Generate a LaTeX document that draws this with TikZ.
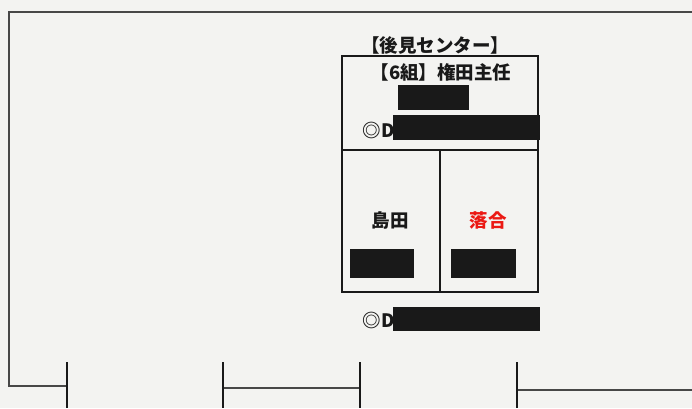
\documentclass[tikz,border=0pt]{standalone}
\usepackage{fontspec}
\setmainfont{Noto Sans CJK JP}
\usetikzlibrary{positioning}
\definecolor{paper}{RGB}{243,243,241}
\definecolor{ink}{RGB}{25,25,25}
\definecolor{namered}{RGB}{235,25,20}

\begin{document}
\begin{tikzpicture}
[x=1pt,y=-1pt,
 wall/.style={draw=ink!80,line width=2pt},
 cell/.style={draw=ink,line width=1.8pt,rectangle,inner sep=0pt},
 jtext/.style={font=\fontsize{18.5}{22}\selectfont\bfseries,inner sep=0pt,text=ink},
 redact/.style={fill=ink,draw=none,inner sep=0pt}]
\fill[paper] (0,0) rectangle (692,408);
\useasboundingbox (0,0) rectangle (692,408);
% outer frame
\coordinate (tl) at (9,12); \coordinate (tr) at (692,12);
\coordinate (bl) at (9,386); \coordinate (p1) at (67,386);
\draw[wall] (tr) -- (tl) -- (bl) -- (p1);
\coordinate (p2) at (223,388); \coordinate (p3) at (360,388);
\coordinate (p4) at (517,390); \coordinate (p5) at (692,390);
\draw[wall] (p2) -- (p3); \draw[wall] (p4) -- (p5);
\foreach \x in {67,223,360,517}
  \draw[draw=ink,line width=1.8pt] (\x,362) -- (\x,408);
% center box
\node[cell,minimum width=196pt,minimum height=94pt](upper) at (440,103){};
\node[cell,minimum width=98pt,minimum height=142pt](shima) at (391,221){};
\node[cell,minimum width=98pt,minimum height=142pt](ochi) at (489,221){};
\node[jtext](title) at (435,45){【後見センター】};
\node[jtext](group) at (441,72){【6組】権田主任};
\node[redact,minimum width=71pt,minimum height=25pt](r1) at (433.5,97.5){};
\node[jtext,anchor=east](d1) at (395,130){◎D};
\node[redact,minimum width=147pt,minimum height=25pt](r2) at (466.5,127.5){};
\node[jtext](n1) at (390,220){島田};
\node[jtext,text=namered](n2) at (488,220){落合};
\node[redact,minimum width=64pt,minimum height=29pt](r3) at (382,263.5){};
\node[redact,minimum width=65pt,minimum height=29pt](r4) at (483.5,263.5){};
\node[jtext,anchor=east](d2) at (395,320){◎D};
\node[redact,minimum width=147pt,minimum height=24pt](r5) at (466.5,319){};
\end{tikzpicture}
\end{document}
